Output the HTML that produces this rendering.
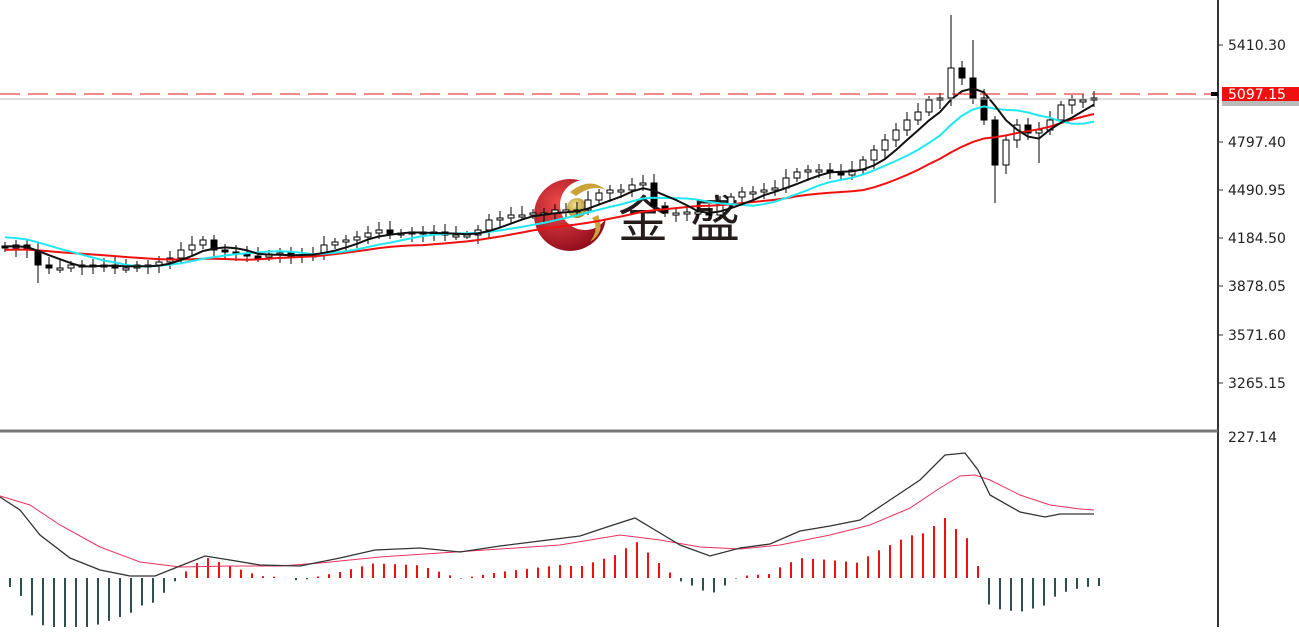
<!DOCTYPE html>
<html><head><meta charset="utf-8"><style>
body{margin:0;background:#fff;width:1299px;height:627px;overflow:hidden;font-family:"Liberation Sans",sans-serif}
</style></head><body>
<svg id="s" width="1299" height="627" xmlns="http://www.w3.org/2000/svg">
<defs>
<radialGradient id="rg" cx="0.35" cy="0.35" r="0.7"><stop offset="0" stop-color="#f04040"/><stop offset="1" stop-color="#8a0010"/></radialGradient>
<radialGradient id="gg" cx="0.4" cy="0.35" r="0.7"><stop offset="0" stop-color="#f5e08a"/><stop offset="1" stop-color="#a07a10"/></radialGradient>
</defs>
<g id="logo" opacity="0.95">
<circle cx="570" cy="215" r="36" fill="url(#rg)"/>
<circle cx="585" cy="205" r="25" fill="#fff"/>
<path d="M570 192 Q590 176 606 190 Q592 184 576 196 Z" fill="#c8a030"/>
<path d="M598 215 Q606 232 590 242 Q600 228 592 218 Z" fill="#c8a030"/>
<circle cx="577" cy="208" r="10" fill="url(#gg)"/>
<text x="618" y="237" font-family="'Noto Sans CJK SC',sans-serif" font-size="50" fill="#1a1010">金</text>
<text x="690" y="237" font-family="'Noto Sans CJK SC',sans-serif" font-size="50" fill="#1a1010">盛</text>
</g>
<g id="g"></g>
<line x1="1218" y1="0" x2="1218" y2="627" stroke="#333" stroke-width="2"/>
<line x1="0" y1="431" x2="1218" y2="431" stroke="#777" stroke-width="3"/>
<line x1="0" y1="99" x2="1218" y2="99" stroke="#bbb" stroke-width="1"/>
<line x1="0" y1="94" x2="1218" y2="94" stroke="#e81010" stroke-width="1" stroke-dasharray="20,8"/>
<rect x="1211" y="92" width="7" height="4" fill="#000"/>
<g font-size="14" fill="#222" font-family="'DejaVu Sans',sans-serif">
<text x="1228" y="50">5410.30</text><text x="1228" y="147">4797.40</text><text x="1228" y="195">4490.95</text>
<text x="1228" y="243">4184.50</text><text x="1228" y="291">3878.05</text><text x="1228" y="340">3571.60</text>
<text x="1228" y="388">3265.15</text><text x="1228" y="442">227.14</text>
</g>
<g stroke="#333"><line x1="1218" y1="45" x2="1223" y2="45"/><line x1="1218" y1="142" x2="1223" y2="142"/><line x1="1218" y1="190" x2="1223" y2="190"/><line x1="1218" y1="238" x2="1223" y2="238"/><line x1="1218" y1="286" x2="1223" y2="286"/><line x1="1218" y1="335" x2="1223" y2="335"/><line x1="1218" y1="383" x2="1223" y2="383"/></g>
<rect x="1222" y="100" width="77" height="6" fill="#bbb"/>
<rect x="1222" y="87" width="77" height="14" fill="#f01010"/>
<text x="1228" y="99" font-size="14" fill="#fff" font-family="'DejaVu Sans',sans-serif">5097.15</text>
</svg>
<script>
const C=[248,245,250,265,268,268,265,266,265,265,268,268,265,265,262,258,250,245,240,250,252,254,256,257,254,253,256,255,255,245,242,240,237,233,230,234,233,232,234,232,235,235,235,230,220,218,215,215,213,213,210,210,210,200,193,190,190,185,183,206,213,213,212,212,215,205,197,192,192,190,188,178,172,170,170,172,175,170,160,150,140,130,120,112,100,98,68,78,98,120,165,140,125,133,130,120,105,100,100,98];
const g=document.getElementById('g');const NS='http://www.w3.org/2000/svg';
function el(t,a){const e=document.createElementNS(NS,t);for(const k in a)e.setAttribute(k,a[k]);g.appendChild(e);return e;}
const X=i=>5+11*i;
let prev=246;
C.forEach((c,i)=>{const o=prev;prev=c;const x=X(i);const top=Math.min(o,c),bot=Math.max(o,c);
let hi=top-4-((i*7)%6),lo=bot+4+((i*5)%6);if(i==86){hi=15}if(i==88){hi=40}if(i==90){lo=203}if(i==94){lo=163}if(i==3)lo=283;
el('line',{x1:x,y1:hi,x2:x,y2:lo,stroke:'#000','stroke-width':1});
const h=Math.max(bot-top,2);
el('rect',{x:x-3,y:top,width:6,height:h,fill:c>o?'#000':'#fff',stroke:'#000','stroke-width':1});});
function ma(n,pad){const a=[];for(let i=0;i<C.length;i++){let s=0;for(let j=i-n+1;j<=i;j++)s+=j<0?pad:C[j];a.push(s/n);}return a;}
[[20,250,'#f01010'],[10,236,'#20e8f0'],[5,246,'#111']].forEach(([n,p,col])=>{const a=ma(n,p);
el('polyline',{points:a.map((v,i)=>X(i)+','+v).join(' '),fill:'none',stroke:col,'stroke-width':2});});
const M=[[0,497],[20,510],[40,535],[70,558],[100,570],[130,576],[155,576],[175,568],[205,556],[230,560],[260,565],[300,566],[340,558],[375,550],[420,548],[460,552],[500,546],[540,541],[580,536],[610,526],[635,518],[660,533],[680,545],[710,556],[740,548],[770,544],[800,531],[830,526],[860,520],[890,500],[920,480],[945,455],[965,453],[978,470],[990,495],[1020,512],[1045,517],[1060,514],[1094,514]];
const S=[[0,496],[30,505],[60,525],[100,547],[140,562],[180,567],[230,566],[280,566],[320,563],[380,557],[440,553],[500,549],[560,545],[620,535],[660,540],[700,547],[740,549],[780,545],[830,535],[870,525],[910,508],[940,488],[960,476],[975,475],[990,480],[1020,495],[1050,505],[1080,509],[1094,510]];
function it(P,x){for(let i=1;i<P.length;i++)if(x<=P[i][0]){const a=P[i-1],b=P[i];return a[1]+(b[1]-a[1])*(x-a[0])/(b[0]-a[0]);}return P[P.length-1][1];}
C.forEach((c,i)=>{const x=X(i)+5;const d=(it(S,x)-it(M,x))*2;
el('line',{x1:x,y1:578,x2:x,y2:578-d,stroke:d>0?'#f01010':'#2f4f4f','stroke-width':2});});
el('polyline',{points:S.map(p=>p.join(',')).join(' '),fill:'none',stroke:'#e83060','stroke-width':1});
el('polyline',{points:M.map(p=>p.join(',')).join(' '),fill:'none',stroke:'#333','stroke-width':1.3});
</script>
</body></html>
